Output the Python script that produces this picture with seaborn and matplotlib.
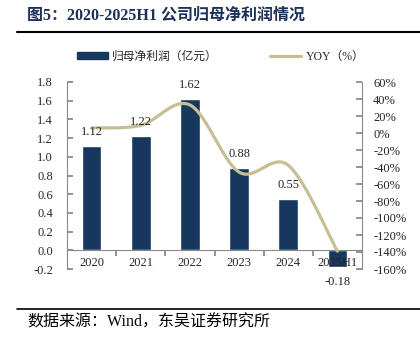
import numpy as np
import pandas as pd
import matplotlib
matplotlib.use('Agg')
import matplotlib.pyplot as plt
import seaborn as sns
from matplotlib.patches import Patch
from matplotlib.lines import Line2D

# ---- data ----
years = ['2020', '2021', '2022', '2023', '2024', '2025H1']
profit = [1.12, 1.22, 1.62, 0.88, 0.55, -0.18]          # 亿元
yoy = [6, 9, 33, -46, -38, -139]                        # %
left_ticks = [-0.2, 0.0, 0.2, 0.4, 0.6, 0.8, 1.0, 1.2, 1.4, 1.6, 1.8]
right_ticks = [-160, -140, -120, -100, -80, -60, -40, -20, 0, 20, 40, 60]

title = '图5：2020-2025H1 公司归母净利润情况'
source = '数据来源：Wind，东吴证券研究所'
bar_label = '归母净利润（亿元）'
line_label = 'YOY（%）'

BAR = '#17375E'
LINE = '#C7BE93'
GRAY = '#888888'

sns.set_theme(style='white')
plt.rcParams['font.family'] = ['Liberation Serif', 'Noto Sans CJK SC']
plt.rcParams['axes.unicode_minus'] = False

df = pd.DataFrame({'year': years, 'profit': profit})

fig = plt.figure(figsize=(4.2, 3.37), dpi=100)
ax = fig.add_axes([67 / 420, (337 - 269) / 337, 295 / 420, 187 / 337])

sns.barplot(data=df, x='year', y='profit', color=BAR, saturation=1,
            width=0.4, ax=ax, zorder=2)
ax.set_axisbelow(False)
ax.set_xlabel('')
ax.set_ylabel('')
ax.set_xlim(-0.5, 5.5)
ax.set_ylim(-0.2, 1.8)
ax.set_yticks(left_ticks)
ax.set_yticklabels([f'{v:.1f}' for v in left_ticks], fontsize=9)
ax.tick_params(axis='y', direction='in', length=4, color=GRAY, pad=10,
               left=True)

# x axis at zero
n = len(years)
ax.spines['bottom'].set_position(('data', 0))
ax.set_xticks([i + 0.5 for i in range(n - 1)])
ax.set_xticklabels([''] * (n - 1))
ax.set_xticks(list(range(n)), minor=True)
ax.set_xticklabels(years, minor=True, fontsize=9)
ax.tick_params(axis='x', which='major', direction='out', length=4,
               color=GRAY, bottom=True)
ax.tick_params(axis='x', which='minor', length=0, pad=5, bottom=True)
for s in ['top', 'right']:
    ax.spines[s].set_visible(False)
for s in ['left', 'bottom']:
    ax.spines[s].set_color(GRAY)
    ax.spines[s].set_linewidth(0.8)
ax.grid(False)

# secondary axis
ax2 = ax.twinx()
ax2.set_ylim(-160, 60)
ax2.set_yticks(right_ticks)
ax2.set_yticklabels([f'{v}%' for v in right_ticks], fontsize=9)
ax2.tick_params(axis='y', direction='in', length=4, color=GRAY, pad=8,
                right=True)
for s in ['top', 'left', 'bottom']:
    ax2.spines[s].set_visible(False)
ax2.spines['right'].set_color(GRAY)
ax2.spines['right'].set_linewidth(0.8)
ax2.grid(False)


def catmull_rom(xs, ys, n_seg=40):
    pts = np.column_stack([xs, ys]).astype(float)
    P = np.vstack([pts[0], pts, pts[-1]])
    out = []
    t = np.linspace(0, 1, n_seg)[:, None]
    for i in range(1, len(P) - 2):
        p0, p1, p2, p3 = P[i - 1], P[i], P[i + 1], P[i + 2]
        c = 0.5 * ((2 * p1) + (-p0 + p2) * t
                   + (2 * p0 - 5 * p1 + 4 * p2 - p3) * t ** 2
                   + (-p0 + 3 * p1 - 3 * p2 + p3) * t ** 3)
        out.append(c)
    return np.vstack(out)


curve = catmull_rom(np.arange(n), yoy)
sns.lineplot(x=curve[:, 0], y=curve[:, 1], ax=ax2, color=LINE, lw=2.3,
             sort=False, estimator=None)
ax2.set_xlim(-0.5, 5.5)

# data labels (on top of line)
for i, v in enumerate(profit):
    off = 10 if v >= 0 else -11
    ax2.annotate(f'{v:.2f}', xy=(i, v), xycoords=ax.transData,
                 xytext=(0, off), textcoords='offset points',
                 ha='center', va='center', fontsize=9, zorder=5)

# legend
handles = [Patch(facecolor=BAR, edgecolor=BAR),
           Line2D([0], [0], color=LINE, lw=2.3)]
fig.legend(handles, [bar_label, line_label], loc='center',
           bbox_to_anchor=(0.525, 1 - 57 / 337), ncol=2, frameon=False,
           fontsize=8.5, handlelength=2.6, handleheight=0.5,
           handletextpad=0.4, columnspacing=4.4)

# title, rules, source
fig.text(27 / 420, 1 - 16 / 337, title, fontsize=11.5, fontweight='bold',
         color='#1B3158', va='center', ha='left')
fig.add_artist(Line2D([17 / 420, 1.0], [1 - 32 / 337] * 2, color='black',
                      lw=1.5))
fig.add_artist(Line2D([17 / 420, 1.0], [1 - 309 / 337] * 2, color='black',
                      lw=1.2))
fig.text(27 / 420, 1 - 323 / 337, source, fontsize=11.5, color='black',
         va='center', ha='left')

fig.savefig('out.png', dpi=100)
